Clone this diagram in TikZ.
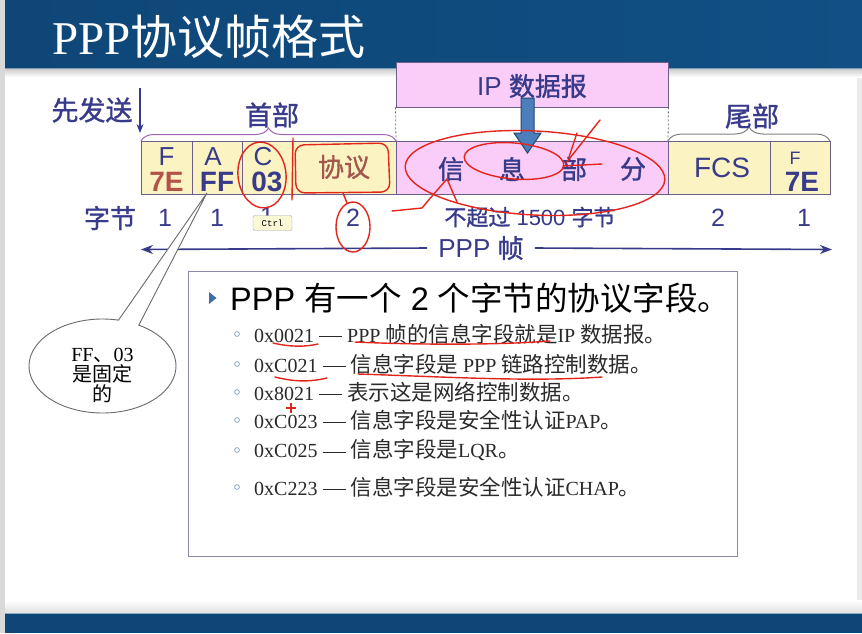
\documentclass[tikz,border=0pt]{standalone}
\usepackage{fontspec}
\setmainfont{Liberation Serif}
\setsansfont{Liberation Sans}
\setmonofont{Liberation Mono}
\newfontfamily\cjk[AutoFakeBold=1.2]{Noto Sans CJK SC}
\usetikzlibrary{arrows.meta,decorations.pathreplacing,shapes.callouts,shapes.geometric,calc}

\definecolor{barblue}{HTML}{0E4677}
\definecolor{barblueright}{HTML}{114F84}
\definecolor{edgegray}{HTML}{D9D9D9}
\definecolor{navy}{HTML}{383A8A}
\definecolor{flagred}{HTML}{B4524A}
\definecolor{protored}{HTML}{A3584E}
\definecolor{boxline}{HTML}{6C5E8A}
\definecolor{fieldyellow}{HTML}{FCF3C3}
\definecolor{infopink}{HTML}{F9CDF7}
\definecolor{annred}{HTML}{E3261C}
\definecolor{arrowblue}{HTML}{4C7EBB}
\definecolor{arrowdark}{HTML}{25466F}
\definecolor{bracepurple}{HTML}{A266B2}
\definecolor{bracegray}{HTML}{808080}
\definecolor{listborder}{HTML}{8D88A8}
\definecolor{listtext}{HTML}{2A2A2A}
\definecolor{bulletblue}{HTML}{8EA6C6}
\definecolor{headbullet}{HTML}{3F6FA9}
\definecolor{tipyellow}{HTML}{FBF8D6}
\definecolor{calloutgray}{HTML}{6A6A6A}

\newcommand\zh[1]{{\cjk #1}}
\newcommand\zhb[1]{{\cjk\bfseries #1}}
\newcommand\zhl[1]{{\cjk\fontsize{21.5}{20}\selectfont #1}}
\newcommand\ldash{\hspace{5pt}\rule[5pt]{23pt}{0.9pt}\hspace{5pt}}
\newcommand\fs[1]{\fontsize{#1}{#1}\selectfont}

\begin{document}
\begin{tikzpicture}[x=1pt,y=-1pt,
  fld/.style={draw=boxline, line width=0.9pt, minimum height=53pt, inner sep=0pt, outer sep=0pt},
  lbltxt/.style={inner sep=0pt, text=navy, font=\sffamily\fs{26}},
  valtxt/.style={inner sep=0pt, font=\sffamily\bfseries\fs{28}},
  cjklbl/.style={inner sep=0pt, text=navy, font=\fs{27}},
  numtxt/.style={inner sep=0pt, text=navy, font=\sffamily\fs{25}},
  framearrow/.style={draw=navy, line width=1.6pt, -{Stealth[length=12pt,width=9pt]}},
  item/.style={anchor=west, inner sep=0pt, text=listtext, font=\rmfamily\fs{20}},
  itembullet/.style={draw=bulletblue, line width=0.8pt},
  redmark/.style={draw=annred, line width=1.4pt, line cap=round, line join=round}]

\useasboundingbox (0,0) rectangle (862,633);
\fill[white] (0,0) rectangle (862,633);

% page edges
\fill[edgegray] (0,0) rectangle (5,633);
\fill[edgegray!50] (857,0) rectangle (862,633);

% title bar and its shadow
\shade[top color=black!22, bottom color=white] (5,68) rectangle (862,77);
\shade[left color=barblue, right color=barblueright] (5,0) rectangle (862,68);
\draw[barblue!55!white, line width=1pt] (5,68) -- (862,68);
\node[anchor=base west, text=white, inner sep=0pt] (title) at (52,54) {\fs{47}PPP\zh{协议帧格式}};

% footer bar
\shade[top color=white, bottom color=black!12] (5,600) rectangle (862,613);
\fill[barblue] (5,613) rectangle (862,633);
\draw[barblue!45!white, line width=1pt] (5,613) -- (862,613);

% IP datagram box
\node[draw=boxline, line width=0.9pt, fill=infopink, minimum width=272pt, minimum height=45pt, inner sep=0pt] (ipbox) at (532,84.5) {};
\node[lbltxt, font=\sffamily\fs{26}] (iptxt) at (532,86) {IP \zhb{数据报}};

% frame fields
\node[fld, fill=fieldyellow, minimum width=51pt]  (fF)    at (166.5,167.5) {};
\node[fld, fill=fieldyellow, minimum width=50pt]  (fA)    at (217,167.5) {};
\node[fld, fill=fieldyellow, minimum width=50pt]  (fC)    at (267,167.5) {};
\node[fld, fill=fieldyellow, minimum width=104pt] (fProto) at (344,167.5) {};
\node[fld, fill=infopink,    minimum width=272pt] (fInfo) at (532,167.5) {};
\node[fld, fill=fieldyellow, minimum width=102pt] (fFCS)  at (719,167.5) {};
\node[fld, fill=fieldyellow, minimum width=60pt]  (fEnd)  at (800,167.5) {};

% dashed guides from the datagram to the information field
\draw[gray!80!black, line width=0.8pt, dash pattern=on 2pt off 2pt] (ipbox.south west) -- (fInfo.north west);
\draw[gray!80!black, line width=0.8pt, dash pattern=on 2pt off 2pt] (ipbox.south east) -- (fInfo.north east);

% field contents
\node[lbltxt] (fFlbl) at (166.5,157) {F};
\node[valtxt, text=flagred] (fFval) at (166.5,182) {7E};
\node[lbltxt] (fAlbl) at (213,157) {A};
\node[valtxt, text=navy] (fAval) at (217,182) {FF};
\node[lbltxt] (fClbl) at (263,157) {C};
\node[valtxt, text=navy] (fCval) at (267,182) {03};
\node[inner sep=0pt, text=protored, font=\fs{26}] (fProtolbl) at (344,167) {\zhb{协议}};
\node[cjklbl, font=\fs{26}] (cXin) at (451,169) {\zhb{信}};
\node[cjklbl, font=\fs{26}] (cXi)  at (512,169) {\zhb{息}};
\node[cjklbl, font=\fs{26}] (cBu)  at (574,169) {\zhb{部}};
\node[cjklbl, font=\fs{26}] (cFen) at (633,169) {\zhb{分}};
\node[lbltxt, font=\sffamily\fs{28}] (fFCSlbl) at (722,168) {FCS};
\node[lbltxt, font=\sffamily\fs{18}] (fEndlbl) at (795,158) {F};
\node[valtxt, text=navy] (fEndval) at (802,182) {7E};

% blue arrow: datagram into the information field
\coordinate (barr) at (527.5,98);
\draw[fill=arrowblue, draw=arrowdark, line width=1pt, line join=miter]
  (barr) ++(-6.5,0) -- ++(13,0) -- ++(0,35) -- ++(7,0) -- ++(-13.5,20) -- ++(-13.5,-20) -- ++(7,0) -- cycle;

% send-first arrow
\node[cjklbl] (sendfirst) at (92,110) {\zhb{先发送}};
\coordinate (sendtop) at (140,88);
\coordinate (sendbot) at (140,133);
\draw[draw=navy, line width=1.5pt, -{Stealth[length=9pt,width=7pt]}] (sendtop) -- (sendbot);

% header / trailer braces
\draw[bracepurple, line width=1pt, decorate, decoration={brace, amplitude=13pt}] (fF.north west) -- (fProto.north east);
\node[cjklbl] (hdr) at (272,115) {\zhb{首部}};
\draw[bracegray, line width=1pt, decorate, decoration={brace, amplitude=14pt}] (fFCS.north west) -- (fEnd.north east);
\node[cjklbl] (trl) at (752,116) {\zhb{尾部}};

% byte counts
\node[cjklbl, font=\fs{26}] (bytes) at (110,218) {\zhb{字节}};
\node[numtxt] (nF) at (165,218) {1};
\node[numtxt] (nA) at (217,218) {1};
\node[numtxt] (nC) at (267,216) {1};
\node[numtxt] (nP) at (353,218) {2};
\node[inner sep=0pt, text=navy, font=\sffamily\fs{22}] (nInfo) at (530,217) {\zhb{不超过} 1500 \zhb{字节}};
\node[numtxt] (nFCS) at (718,218) {2};
\node[numtxt] (nEnd) at (804,218) {1};

% keyboard hint
\node[draw=gray!70, fill=tipyellow, rounded corners=2pt, inner sep=1pt, minimum width=39pt, minimum height=15pt, font=\ttfamily\fs{9}] (ctrltip) at (272.5,223) {Ctrl};

% whole-frame arrow
\node[inner sep=0pt, inner xsep=11pt, text=navy, font=\sffamily\fs{26}] (pppf) at (481,248) {PPP \zhb{帧}};
\coordinate (fl) at (141,249.5);
\coordinate (fr) at (832,249.5);
\draw[framearrow] (pppf.west) -- (fl);
\draw[framearrow] (pppf.east) -- (fr);

% protocol list
\node[draw=listborder, line width=1pt, minimum width=549pt, minimum height=285pt, inner sep=0pt] (listbox) at (462.5,413.5) {};
\fill[headbullet] (209,292) -- (216.5,298) -- (209,304) -- cycle;
\node[anchor=west, inner sep=0pt, text=black, font=\sffamily\fs{32.5}] (head) at (230,298)
  {PPP \zh{有一个} 2 \zh{个字节的协议字段。}};

\draw[itembullet] (237,334) circle (2.4);
\node[item] (i1) at (254,334) {0x0021\ldash PPP \zhl{帧的信息字段就是}IP \zhl{数据报。}};
\draw[itembullet] (237,364) circle (2.4);
\node[item] (i2) at (254,364) {0xC021\ldash\zhl{信息字段是} PPP \zhl{链路控制数据。}};
\draw[itembullet] (237,392) circle (2.4);
\node[item] (i3) at (254,392) {0x8021\ldash\zhl{表示这是网络控制数据。}};
\draw[itembullet] (237,420) circle (2.4);
\node[item] (i4) at (254,420) {0xC023\ldash\zhl{信息字段是安全性认证}PAP\zhl{。}};
\draw[itembullet] (237,450) circle (2.4);
\node[item] (i5) at (254,450) {0xC025\ldash\zhl{信息字段是}LQR\zhl{。}};
\draw[itembullet] (237,487) circle (2.4);
\node[item] (i6) at (254,487) {0xC223\ldash\zhl{信息字段是安全性认证}CHAP\zhl{。}};

% callout: FF and 03 are fixed
\node[ellipse callout, draw=calloutgray, fill=white, line width=0.9pt, minimum width=147pt, minimum height=94pt, inner sep=0pt,
      callout absolute pointer={($(fAval.south)+(-10,1)$)}, callout pointer arc=17] (fixnote) at (102.5,366) {};
\node[inner sep=0pt, align=center, text=black, font=\rmfamily\fs{20}] (fixtxt) at (102.5,375)
  {\fontsize{20}{24.5}\selectfont FF\zh{、}03\\\zh{是固定}\\\zh{的}};

% red pen marks
\draw[redmark, rotate around={6:(262,175)}] (262,175) ellipse (24 and 33);
\draw[redmark] (293,138) -- (292,200);
\draw[redmark, rounded corners=9pt] (295,145) -- (388,143) -- (390,192) -- (296,193) -- cycle;
\draw[redmark] (343,193) -- (347,203);
\draw[redmark] (353,227) ellipse (17 and 25);
\draw[redmark, rotate around={-3:(535,173)}] (535,173) ellipse (130 and 42);
\draw[redmark, rotate around={-5:(514,161)}] (514,161) ellipse (50 and 18);
\draw[redmark] (563,166) -- (602,164);
\draw[redmark] (600,120) -- (566,163);
\draw[redmark] (577,133) -- (569,157);
\draw[redmark] (392,211) -- (422,208) .. controls (432,196) .. (447,179) -- (457,202);
\draw[redmark] (273,343) .. controls (290,347) and (305,347) .. (318,344);
\draw[redmark] (355,342) .. controls (420,345) and (500,345) .. (550,341);
\draw[redmark] (275,377) .. controls (295,382) and (310,382) .. (327,378);
\draw[redmark] (358,374) .. controls (450,377) and (530,382) .. (602,377);
\draw[annred, line width=1.2pt] (286,408) -- (296,408) (291,403) -- (291,413);

\end{tikzpicture}
\end{document}
